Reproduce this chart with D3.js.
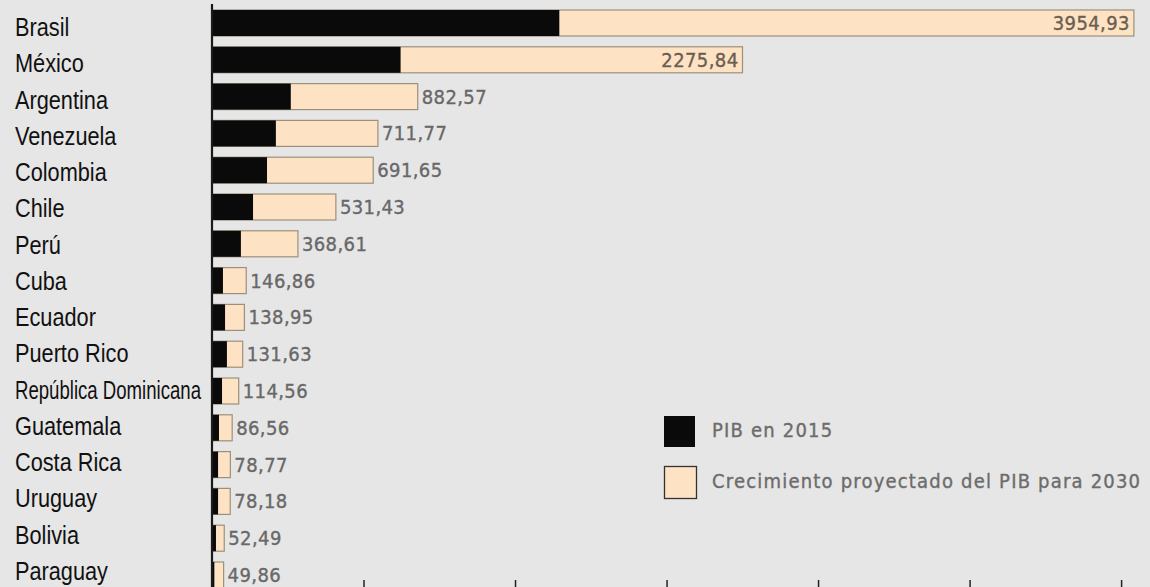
<!DOCTYPE html>
<html><head><meta charset="utf-8">
<script src="https://cdn.jsdelivr.net/npm/d3@7"></script>
<style>
html,body{margin:0;padding:0;background:#e6e6e6;overflow:hidden}
</style></head>
<body><svg id="c" width="1150" height="587"></svg>
<script>
const countries = ["Brasil","México","Argentina","Venezuela","Colombia","Chile","Perú","Cuba","Ecuador","Puerto Rico","República Dominicana","Guatemala","Costa Rica","Uruguay","Bolivia","Paraguay"];
const pib2015 = [1490,809,338,274,236,176,124,47,56,64,43,30,26,26,17,10];
const pib2030 = [3954.93,2275.84,882.57,711.77,691.65,531.43,368.61,146.86,138.95,131.63,114.56,86.56,78.77,78.18,52.49,49.86];
const totalLabels = ["3954,93","2275,84","882,57","711,77","691,65","531,43","368,61","146,86","138,95","131,63","114,56","86,56","78,77","78,18","52,49","49,86"];
const tickValues = [650,1300,1950,2600,3250,3900];
const legendLabels = ["PIB en 2015","Crecimiento proyectado del PIB para 2030"];

const svg = d3.select("#c");
svg.append("rect").attr("width",1150).attr("height",587).attr("fill","#e6e6e6");

const x = d3.scaleLinear().domain([0,3900]).range([212, 212+3900*0.2331]);
const y = d3.scaleBand().domain(countries).range([4.6, 4.6+16*36.8]).paddingInner(0.293).paddingOuter(0.1465);
const yLab = d3.scalePoint().domain(countries).range([36, 580]);

const rows = countries.map((c,i)=>({c, a:pib2015[i], t:pib2030[i], lab: totalLabels[i]}));

// peach total bars
svg.selectAll("rect.tot").data(rows).join("rect").attr("class","tot")
  .attr("x", x(0)).attr("y", d=>y(d.c))
  .attr("width", d=>x(d.t)-x(0)).attr("height", y.bandwidth())
  .attr("fill","#fee2c4").attr("stroke","#9c907c").attr("stroke-width",1.2);
// black bars
svg.selectAll("rect.base").data(rows).join("rect").attr("class","base")
  .attr("x", x(0)).attr("y", d=>y(d.c))
  .attr("width", d=>x(d.a)-x(0)).attr("height", y.bandwidth())
  .attr("fill","#0a0a0a");

// value labels
svg.selectAll("text.val").data(rows).join("text").attr("class","val")
  .attr("x", d=> d.t>2000 ? x(d.t)-4 : x(d.t)+4)
  .attr("y", d=>y(d.c)+y.bandwidth()/2+7)
  .attr("text-anchor", d=> d.t>2000 ? "end":"start")
  .attr("font-family","'DejaVu Sans Condensed','DejaVu Sans',sans-serif")
  .attr("font-size",20).attr("letter-spacing",0.4)
  .attr("fill", d=> d.t>2000 ? "#6a5e50" : "#686868")
  .attr("stroke", d=> d.t>2000 ? "#6a5e50" : "#686868").attr("stroke-width",0.35)
  .text(d=>d.lab);

// country labels (condensed)
const sx = 0.82, maxW = 186;
svg.selectAll("text.cty").data(rows).join("text").attr("class","cty")
  .attr("transform", d=>`translate(15,${yLab(d.c)}) scale(${sx},1)`)
  .attr("font-family","'Liberation Sans','Arial',sans-serif")
  .attr("font-size",26.5).attr("fill","#111")
  .text(d=>d.c)
  .each(function(){
    const w = this.getComputedTextLength()*sx;
    if (w > maxW) { d3.select(this).attr("textLength", maxW/sx).attr("lengthAdjust","spacingAndGlyphs"); }
  });

// y axis line
svg.append("line").attr("x1",212).attr("x2",212).attr("y1",4).attr("y2",587)
  .attr("stroke","#1a1a1a").attr("stroke-width",2.2);

// x axis ticks (axis line below view)
const xa = svg.append("g").attr("transform","translate(0,593)")
  .call(d3.axisBottom(x).tickValues(tickValues).tickSizeInner(-13).tickSizeOuter(0).tickFormat(""));
xa.select(".domain").remove();
xa.selectAll(".tick line").attr("stroke","#222").attr("stroke-width",1.5);

// legend
const leg = svg.append("g");
leg.append("rect").attr("x",664).attr("y",416).attr("width",31).attr("height",31).attr("fill","#0a0a0a");
leg.append("rect").attr("x",664.5).attr("y",466.5).attr("width",32).attr("height",32).attr("fill","#fee2c4").attr("stroke","#333").attr("stroke-width",1.3);
leg.selectAll("text").data(legendLabels).join("text")
  .attr("x",712).attr("y",(d,i)=>437+i*51)
  .attr("font-family","'DejaVu Sans Condensed','DejaVu Sans',sans-serif")
  .attr("font-size",20).attr("letter-spacing",1.2).attr("fill","#6c6c6c")
  .attr("stroke","#6c6c6c").attr("stroke-width",0.35)
  .text(d=>d);
</script></body></html>
